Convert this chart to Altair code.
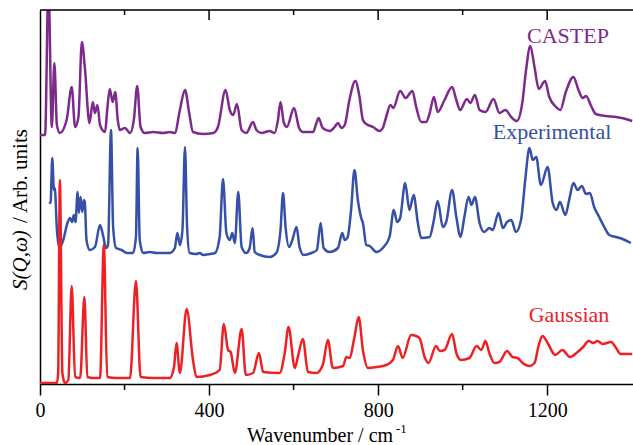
import altair as alt
import pandas as pd

# ---- data (wavenumber / cm-1, intensity in arbitrary units) ----
castep_wn = [0, 12, 20, 28, 34, 40, 47, 63, 75, 83, 91, 99, 106, 117, 125, 130, 136, 142, 154, 159,
             165, 172, 178, 184, 189, 201, 213, 222, 230, 238, 248, 268, 291, 307, 319, 331, 343, 353,
             362, 386, 410, 421, 439, 449, 457, 466, 477, 488, 504, 512, 524, 543, 555, 563, 569, 577,
             584, 601, 613, 622, 646, 654, 659, 669, 685, 697, 705, 713, 721, 732, 746, 756, 764, 772,
             788, 803, 811, 819, 829, 836, 852, 865, 881, 890, 902, 914, 922, 932, 941, 957, 975, 985,
             994, 1010, 1018, 1029, 1040, 1054, 1073, 1087, 1101, 1115, 1128, 1141, 1150, 1160, 1170,
             1180, 1195, 1205, 1221, 1231, 1244, 1262, 1274, 1284, 1292, 1304, 1315, 1339, 1363, 1394, 1401]
castep_int = [249, 249, 400, 257, 321, 259, 251, 264, 297, 257, 267, 342, 317, 261, 282, 271, 279, 259, 252, 274,
              295, 282, 292, 264, 254, 256, 251, 264, 298, 257, 251, 252, 251, 252, 251, 274, 294, 271,
              252, 250, 251, 257, 294, 274, 269, 280, 254, 251, 262, 254, 251, 253, 251, 264, 282, 261,
              257, 276, 256, 252, 252, 261, 266, 256, 253, 257, 261, 256, 259, 284, 303, 287, 264, 260,
              257, 253, 256, 267, 279, 276, 293, 286, 293, 277, 262, 262, 271, 287, 272, 284, 297, 284,
              274, 285, 281, 289, 274, 272, 285, 271, 274, 267, 263, 281, 314, 338, 317,
              295, 303, 287, 277, 274, 292, 307, 294, 286, 288, 278, 270, 268, 267, 264, 263]

exp_wn = [22, 25, 29, 33, 35, 40, 46, 55, 65, 71, 76, 80, 84, 89, 92, 96, 100, 104, 106, 110, 118, 130,
          142, 150, 156, 161, 168, 173, 180, 193, 205, 220, 227, 231, 236, 244, 260, 276, 307, 319, 325,
          331, 337, 343, 348, 354, 370, 378, 386, 402, 414, 425, 433, 441, 449, 455, 461, 469, 477, 488,
          496, 503, 508, 520, 543, 559, 569, 575, 581, 589, 597, 607, 614, 624, 642, 655, 664, 671, 685,
          705, 715, 721, 728, 736, 744, 752, 760, 764, 772, 780, 796, 811, 827, 837, 845, 852, 864, 874,
          884, 894, 902, 922, 931, 941, 953, 961, 975, 985, 995, 1004, 1014, 1021, 1029, 1040, 1051,
          1063, 1071, 1085, 1095, 1105, 1115, 1126, 1138, 1148, 1158, 1166, 1174, 1185, 1201, 1213,
          1222, 1230, 1243, 1252, 1262, 1272, 1282, 1292, 1301, 1311, 1323, 1335, 1347, 1363, 1378, 1398]
exp_int = [182, 181, 226, 194, 196, 154, 136, 144, 161, 166, 162, 169, 162, 192, 171, 187, 172, 184, 182, 144, 134, 137,
           159, 147, 136, 139, 254, 157, 136, 134, 131, 131, 147, 236, 144, 131, 132, 131, 131, 136, 151,
           139, 154, 237, 157, 131, 130, 131, 129, 130, 131, 147, 205, 151, 144, 151, 141, 192, 137, 131,
           136, 156, 132, 129, 127, 131, 154, 191, 157, 137, 144, 157, 137, 129, 131, 134, 161, 136, 132,
           136, 151, 144, 147, 174, 214, 184, 166, 161, 139, 138, 132, 136, 147, 174, 162, 166, 201, 174,
           189, 161, 146, 147, 162, 183, 157, 162, 194, 167, 147, 167, 187, 179, 187, 161, 152,
           156, 154, 171, 156, 162, 164, 152, 164, 204, 236, 224, 227, 199, 217, 181,
           174, 182, 169, 184, 201, 194, 198, 190, 191, 177, 167, 157, 149, 147, 145, 141]

gauss_wn = [0, 40, 43, 47, 53, 59, 67, 75, 83, 95, 105, 112, 126, 142, 151, 159, 181, 213, 227, 238, 268,
            307, 317, 323, 331, 347, 362, 370, 402, 425, 435, 445, 451, 461, 477, 487, 504, 518, 528, 567,
            579, 588, 603, 610, 622, 634, 654, 669, 681, 693, 717, 725, 732, 744, 754, 764, 776, 796, 819,
            835, 847, 858, 878, 890, 898, 910, 919, 937, 946, 957, 975, 985, 996, 1016, 1033, 1044, 1054,
            1063, 1075, 1087, 1105, 1118, 1130, 1142, 1158, 1170, 1180, 1189, 1201, 1219, 1236, 1254, 1272,
            1285, 1298, 1309, 1319, 1331, 1351, 1363, 1374, 1401]
gauss_int = [1, 1, 11, 204, 11, 1, 4, 98, 7, 6, 87, 7, 6, 6, 139, 7, 6, 6, 103, 7, 6,
             6, 17, 41, 11, 75, 24, 7, 9, 14, 60, 34, 32, 11, 55, 9, 11, 31, 12, 11,
             31, 57, 16, 27, 45, 12, 11, 19, 44, 16, 18, 27, 26, 47, 67, 34, 16, 17, 19,
             24, 38, 26, 49, 48, 46, 27, 21, 38, 33, 34, 50, 31, 24, 26, 38, 34, 43,
             31, 21, 22, 33, 27, 26, 21, 18, 21, 39, 48, 41, 29, 34, 27, 32,
             37, 43, 41, 43, 40, 42, 36, 30, 30]

series_names = ["CASTEP", "Experimental", "Gaussian"]
series_colors = ["#7D2A8C", "#3550A6", "#EE2024"]

major_ticks = [0, 400, 800, 1200]
minor_ticks = [200, 600, 1000]
top_major = [400, 800, 1200]

rows = []
for name, wn, it in [("CASTEP", castep_wn, castep_int),
                     ("Experimental", exp_wn, exp_int),
                     ("Gaussian", gauss_wn, gauss_int)]:
    for i, (a, b) in enumerate(zip(wn, it)):
        rows.append({"series": name, "wn": a, "s": b, "i": i})
df = pd.DataFrame(rows)

W, H = 593, 374
FONT = "Liberation Serif, Times New Roman, Times, serif"
xscale = alt.Scale(domain=[0, 1403], nice=False, zero=False)
yscale = alt.Scale(domain=[0, 374], nice=False, zero=False)

lines = alt.Chart(df).mark_line(strokeWidth=2.5, clip=True, strokeJoin="round",
                                interpolate="monotone").encode(
    x=alt.X("wn:Q", scale=xscale,
            axis=alt.Axis(values=major_ticks, format="d", title=None, grid=False, tickSize=11,
                          tickWidth=1.5, tickColor="black", domainColor="black", domainWidth=1.5,
                          labelFont=FONT, labelFontSize=20, labelColor="black", labelPadding=5,
                          labelFlush=False)),
    y=alt.Y("s:Q", scale=yscale,
            axis=alt.Axis(labels=False, ticks=False, grid=False, title=None,
                          domainColor="black", domainWidth=1.5)),
    color=alt.Color("series:N", scale=alt.Scale(domain=series_names, range=series_colors), legend=None),
    detail="series:N",
    order="i:Q",
)

tick_df_minor = pd.DataFrame({"t": minor_ticks})
tick_df_top_major = pd.DataFrame({"t": top_major})

bottom_minor = alt.Chart(tick_df_minor).mark_rule(color="black", strokeWidth=1.5).encode(
    x=alt.X("t:Q", scale=xscale), y=alt.value(H), y2=alt.value(H + 6))
top_minor = alt.Chart(tick_df_minor).mark_rule(color="black", strokeWidth=1.5).encode(
    x=alt.X("t:Q", scale=xscale), y=alt.value(0), y2=alt.value(5))
top_major_r = alt.Chart(tick_df_top_major).mark_rule(color="black", strokeWidth=1.5).encode(
    x=alt.X("t:Q", scale=xscale), y=alt.value(0), y2=alt.value(10))

one = alt.Data(values=[{}])
top_border = alt.Chart(one).mark_rule(color="black", strokeWidth=1.5).encode(
    x=alt.value(0), x2=alt.value(W), y=alt.value(0))


def label(txt, x, y, color, size=22, align="center", angle=None, italic=False):
    kw = dict(font=FONT, fontSize=size, align=align, baseline="alphabetic", color=color)
    if angle is not None:
        kw["angle"] = angle
    if italic:
        kw["fontStyle"] = "italic"
    return alt.Chart(one).mark_text(**kw).encode(
        x=alt.value(x), y=alt.value(y), text=alt.value(txt))


texts = [
    label("CASTEP", 528, 33, series_colors[0]),
    label("Experimental", 512, 129, series_colors[1]),
    label("Gaussian", 529, 312, series_colors[2]),
    label("Wavenumber / cm", 207, 432, "black", size=20, align="left"),
    label("-1", 356, 423, "black", size=13, align="left"),
    label("S(Q,ω)", -13, 280, "black", size=21, align="left", angle=270, italic=True),
    label("/ Arb. units", -13, 213, "black", size=21, align="left", angle=270),
]

chart = alt.layer(lines, bottom_minor, top_minor, top_major_r, top_border, *texts).properties(
    width=W, height=H,
    autosize=alt.AutoSizeParams(type="none"),
    padding={"left": 40, "top": 10, "right": 0, "bottom": 61},
).configure_view(stroke=None).configure(background="white")

chart.save("out.html", embed_options={"renderer": "svg", "actions": False})
